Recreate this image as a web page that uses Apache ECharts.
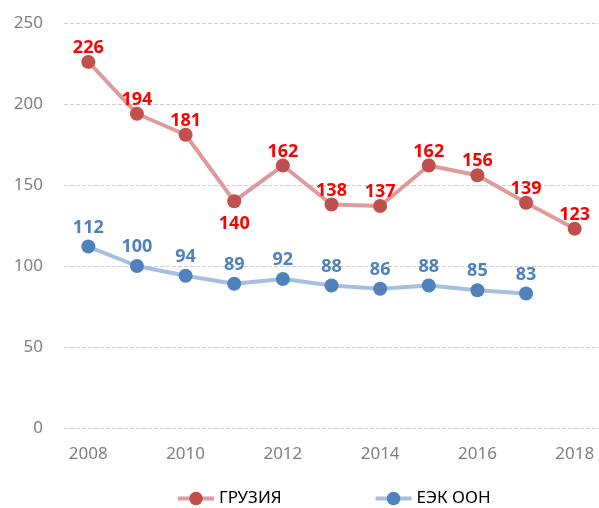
<!DOCTYPE html>
<html><head><meta charset="utf-8">
<script src="https://cdn.jsdelivr.net/npm/echarts@6/dist/echarts.min.js"></script>
<style>html,body{margin:0;padding:0;background:#fff}#c{width:599px;height:508px}</style>
</head><body><div id="c"></div>
<script>
const years = ['2008','2009','2010','2011','2012','2013','2014','2015','2016','2017','2018'];
const georgia = [226,194,181,140,162,138,137,162,156,139,123];
const unece = [112,100,94,89,92,88,86,88,85,83];
const georgiaBelow = ['2011'];
const seriesNames = ['ГРУЗИЯ','ЕЭК ООН'];
const FONT = 'Noto Sans';

const chart = echarts.init(document.getElementById('c'));
chart.setOption({
  animation:false,
  textStyle:{fontFamily:FONT},
  grid:{left:64, top:23, width:539, bottom:80, containLabel:false},
  legend:{
    top:485, left:171, itemGap:92, itemWidth:36, itemHeight:17,
    lineStyle:{width:4},
    textStyle:{fontFamily:FONT, fontSize:17, color:'#000'},
    data:seriesNames
  },
  xAxis:{
    type:'category', data:years, boundaryGap:true,
    axisLine:{show:false}, axisTick:{show:false},
    axisLabel:{interval:1, color:'#7f7f7f', fontSize:17, margin:18, fontFamily:FONT}
  },
  yAxis:{
    type:'value', min:0, max:250, interval:50,
    axisLine:{show:false}, axisTick:{show:false},
    axisLabel:{color:'#7f7f7f', fontSize:17, margin:21, fontFamily:FONT},
    splitLine:{lineStyle:{type:'dashed', color:'#d0d0d0', width:1}}
  },
  series:[
    {
      name:seriesNames[0], type:'line', data:georgia.map((v,i)=>{
        const below = georgiaBelow.includes(years[i]);
        return below ? {value:v, label:{position:'bottom', distance:7}} : v;
      }),
      symbol:'circle', symbolSize:14,
      lineStyle:{color:'#dc9c9b', width:4},
      itemStyle:{color:'#c0504d'},
      label:{show:true, position:'top', distance:-2, color:'#ff0000', fontWeight:'bold', fontSize:18, fontFamily:FONT},
      z:3
    },
    {
      name:seriesNames[1], type:'line', data:unece,
      symbol:'circle', symbolSize:14,
      lineStyle:{color:'#a7bfde', width:4},
      itemStyle:{color:'#4f81bd'},
      label:{show:true, position:'top', distance:3, color:'#4f81bd', fontWeight:'bold', fontSize:18, fontFamily:FONT},
      z:2
    }
  ]
});
</script></body></html>
